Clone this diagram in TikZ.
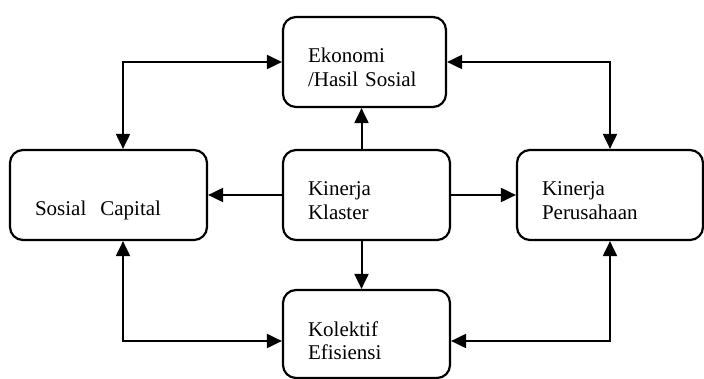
\documentclass[tikz,border=0pt]{standalone}
\usepackage{fontspec}
\setmainfont{Liberation Serif}
\usetikzlibrary{arrows.meta}

\begin{document}
\begin{tikzpicture}[x=1pt, y=-1pt,
    block/.style={draw, line width=2.2pt, rounded corners=13pt, align=left,
      inner xsep=25pt, inner ysep=0pt, text height=46pt, text depth=44pt,
      font=\fontsize{21}{24}\selectfont},
    link/.style={line width=2pt, -{Triangle[length=15pt, width=14pt]}},
    twoway/.style={line width=2pt,
      {Triangle[length=15pt, width=14pt]}-{Triangle[length=15pt, width=14pt]}}]
  \useasboundingbox (0,0) rectangle (704,379);

  \node[block, text width=113pt] (ekonomi) at (364.5,62) {Ekonomi\\/Hasil Sosial};
  \node[block, text width=117pt] (klaster) at (366.5,195) {Kinerja\\Klaster};
  \node[block, text width=147pt, text height=66pt, text depth=24pt]
    (sosial) at (108.5,195) {Sosial\ \ Capital};
  \node[block, text width=136pt] (perusahaan) at (610,195) {Kinerja\\Perusahaan};
  \node[block, text width=117pt, text depth=42pt] (kolektif) at (366.5,334) {Kolektif\\Efisiensi};

  \draw[twoway] (ekonomi.west) -| ([xshift=14.5pt]sosial.north);
  \draw[twoway] (ekonomi.east) -| (perusahaan.north);
  \draw[link] ([xshift=-5pt]klaster.north) -- ([xshift=-3pt]ekonomi.south);
  \draw[link] (klaster.west) -- (sosial.east);
  \draw[link] (klaster.east) -- (perusahaan.west);
  \draw[link] ([xshift=-5pt]klaster.south) -- ([xshift=-5pt]kolektif.north);
  \draw[twoway] ([xshift=14.5pt]sosial.south) |- ([yshift=-7pt]kolektif.west);
  \draw[twoway] (perusahaan.south) |- ([yshift=-7pt]kolektif.east);
\end{tikzpicture}
\end{document}
